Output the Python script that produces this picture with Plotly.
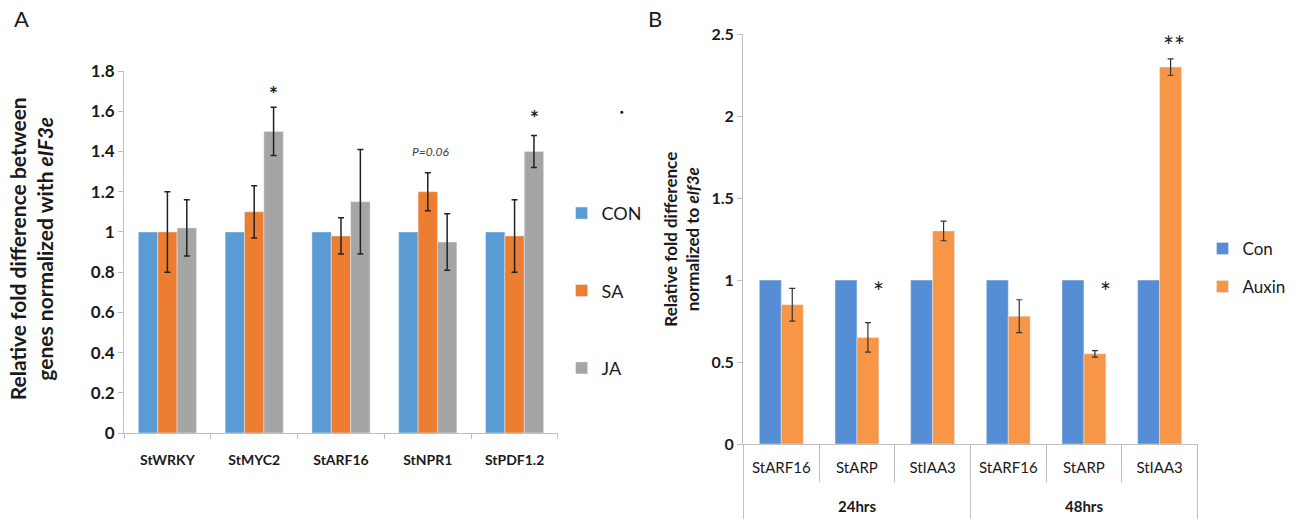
import plotly.graph_objects as go

# ---------------- Panel A data ----------------
genes_a = ["StWRKY", "StMYC2", "StARF16", "StNPR1", "StPDF1.2"]
con_a = [1.0, 1.0, 1.0, 1.0, 1.0]
sa_a = [1.0, 1.10, 0.98, 1.20, 0.98]
sa_err_a = [0.20, 0.13, 0.09, 0.095, 0.18]
ja_a = [1.02, 1.50, 1.15, 0.95, 1.40]
ja_err_a = [0.14, 0.12, 0.26, 0.14, 0.08]
yticks_a = [0, 0.2, 0.4, 0.6, 0.8, 1, 1.2, 1.4, 1.6, 1.8]

# ---------------- Panel B data ----------------
times_b = ["24hrs", "24hrs", "24hrs", "48hrs", "48hrs", "48hrs"]
genes_b = ["StARF16", "StARP", "StIAA3", "StARF16", "StARP", "StIAA3"]
con_b = [1.0, 1.0, 1.0, 1.0, 1.0, 1.0]
aux_b = [0.85, 0.65, 1.30, 0.78, 0.55, 2.30]
aux_err_b = [0.10, 0.09, 0.06, 0.10, 0.02, 0.05]
yticks_b = [0, 0.5, 1, 1.5, 2, 2.5]

FONT = "Lato"
AXIS_GREY = "#bfbfbf"
TEXT = "#1a1a1a"

# unique category keys for panel B (time point + gene)
keys_b = [f"{t} {g}" for t, g in zip(times_b, genes_b)]

fig = go.Figure()

err_style = dict(type="data", visible=True, color="#222222", thickness=1.5, width=3)

fig.add_trace(go.Bar(x=genes_a, y=con_a, name="CON", marker_color="#5b9bd5",
                     xaxis="x", yaxis="y", legend="legend", legendgroup="a1"))
fig.add_trace(go.Bar(x=genes_a, y=sa_a, name="SA", marker_color="#ed7d31",
                     error_y=dict(array=sa_err_a, **err_style),
                     xaxis="x", yaxis="y", legend="legend", legendgroup="a2"))
fig.add_trace(go.Bar(x=genes_a, y=ja_a, name="JA", marker_color="#a5a5a5",
                     error_y=dict(array=ja_err_a, **err_style),
                     xaxis="x", yaxis="y", legend="legend", legendgroup="a3"))

BW = 0.29  # bar width of panel B in category units
fig.add_trace(go.Bar(x=keys_b, y=con_b, name="Con", marker_color="#558ed5",
                     width=BW, offset=-BW,
                     xaxis="x2", yaxis="y2", legend="legend2", legendgroup="b1"))
fig.add_trace(go.Bar(x=keys_b, y=aux_b, name="Auxin", marker_color="#f79646",
                     width=BW, offset=0,
                     error_y=dict(array=aux_err_b, type="data", visible=True,
                                  color="#333333", thickness=1.2, width=3),
                     xaxis="x2", yaxis="y2", legend="legend2", legendgroup="b2"))

axis_common = dict(showgrid=False, zeroline=False, showline=True, linecolor=AXIS_GREY,
                   linewidth=1, ticks="outside", tickcolor=AXIS_GREY, ticklen=5)

fig.update_layout(
    width=1300, height=519,
    margin=dict(l=0, r=0, t=0, b=0, autoexpand=False),
    paper_bgcolor="white", plot_bgcolor="white",
    font=dict(family=FONT, color=TEXT),
    barmode="group",
    bargap=0.33, bargroupgap=0,
    xaxis=dict(domain=[0.0954, 0.4292], anchor="y", tickson="boundaries",
               ticklabelstandoff=14,
               tickfont=dict(size=14, weight="bold"), **axis_common),
    yaxis=dict(domain=[0.1657, 0.863], anchor="x", range=[0, 1.8],
               tickvals=yticks_a, ticktext=[f"{v:g}" for v in yticks_a],
               tickfont=dict(size=17, weight="bold"), **axis_common),
    xaxis2=dict(domain=[0.5715, 0.9215], anchor="y2", tickson="boundaries",
                tickvals=keys_b, ticktext=genes_b, ticklabelstandoff=10,
                tickfont=dict(size=15), **{**axis_common, "ticklen": 37}),
    yaxis2=dict(domain=[0.1445, 0.934], anchor="x2", range=[0, 2.5],
                tickvals=yticks_b, ticktext=[f"{v:g}" for v in yticks_b],
                tickfont=dict(size=16, weight="bold"), **axis_common),
    legend=dict(x=0.432, y=0.6245, xanchor="left", yanchor="top",
                font=dict(size=18), tracegroupgap=51, itemwidth=30,
                bgcolor="rgba(0,0,0,0)"),
    legend2=dict(x=0.925, y=0.555, xanchor="left", yanchor="top",
                 font=dict(size=17), tracegroupgap=13, itemwidth=30,
                 bgcolor="rgba(0,0,0,0)"),
)

# group labels and long dividers under the panel B axis
groups = []
for i, t in enumerate(times_b):
    if not groups or groups[-1][0] != t:
        groups.append([t, i, i])
    else:
        groups[-1][2] = i

shapes = []
bounds = sorted({g[1] - 0.5 for g in groups} | {g[2] + 0.5 for g in groups})
for b in bounds:
    shapes.append(dict(type="line", xref="x2", yref="paper", x0=b, x1=b, y0=0, y1=0.1445,
                       line=dict(color=AXIS_GREY, width=1)))

annotations = [
    # panel letters
    dict(text="A", x=0.009, y=0.965, xref="paper", yref="paper", showarrow=False,
         font=dict(size=22), xanchor="left", yanchor="middle"),
    dict(text="B", x=0.497, y=0.965, xref="paper", yref="paper", showarrow=False,
         font=dict(size=22), xanchor="left", yanchor="middle"),
    # y-axis titles
    dict(text="<b>Relative fold difference between<br>genes normalized with <i>eIF3e</i></b>",
         x=0.024, y=0.52, xref="paper", yref="paper", showarrow=False, textangle=-90,
         font=dict(size=21), xanchor="center", yanchor="middle"),
    dict(text="<b>Relative fold difference<br>normalized to <i>eIf3e</i></b>",
         x=0.5246, y=0.54, xref="paper", yref="paper", showarrow=False, textangle=-90,
         font=dict(size=17), xanchor="center", yanchor="middle"),
    # significance marks, panel A
    dict(text="<b>*</b>", x="StMYC2", y=1.69, xref="x", yref="y", xshift=19.5,
         showarrow=False, font=dict(size=21)),
    dict(text="<b>*</b>", x="StPDF1.2", y=1.57, xref="x", yref="y", xshift=19.5,
         showarrow=False, font=dict(size=21)),
    dict(text="<i>P=0.06</i>", x="StNPR1", y=1.40, xref="x", yref="y", xshift=3,
         showarrow=False, font=dict(size=12, color="#404040")),
    dict(text="●", x=0.4785, y=0.795, xref="paper", yref="paper", showarrow=False,
         font=dict(size=6, color="#111111")),
    # significance marks, panel B
    dict(text="*", x=keys_b[1], y=0.93, xref="x2", yref="y2", xshift=22,
         showarrow=False, font=dict(size=26)),
    dict(text="*", x=keys_b[4], y=0.93, xref="x2", yref="y2", xshift=22,
         showarrow=False, font=dict(size=26)),
    dict(text="**", x=keys_b[5], y=2.43, xref="x2", yref="y2", xshift=14,
         showarrow=False, font=dict(size=26)),
]
for name, i0, i1 in groups:
    annotations.append(dict(text=name, x=(i0 + i1) / 2, y=0, xref="x2", yref="y2 domain",
                            yshift=-62, showarrow=False, yanchor="middle",
                            font=dict(size=15, weight="bold")))

fig.update_layout(annotations=annotations, shapes=shapes)

fig.write_html("out.html")
